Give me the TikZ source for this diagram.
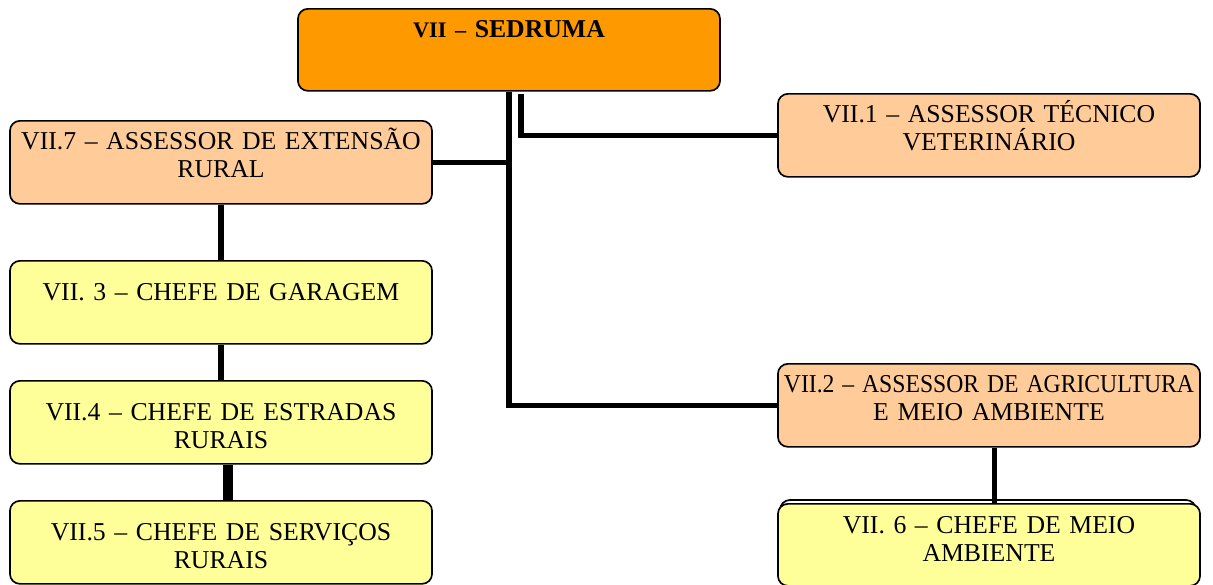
\documentclass[tikz,border=0pt]{standalone}
\usepackage{fontspec}
\usepackage{graphicx}
\setmainfont{Liberation Serif}
\definecolor{sedlaranja}{HTML}{FF9900}
\definecolor{assessorcor}{HTML}{FFCC99}
\definecolor{chefecor}{HTML}{FFFF99}
\tikzset{>=stealth,
  caixa/.style = {draw, line width=1.2pt, rounded corners=0.25cm, anchor=north,
    text width=10.55cm, align=center, inner sep=0pt},
  assessor/.style = {caixa, fill=assessorcor, text height=0.72cm, text depth=1.355cm},
  chefe/.style = {caixa, fill=chefecor, text height=1cm, text depth=1.075cm},
  ligacao/.style = {line width=0.14cm}}

\begin{document}
\begin{tikzpicture}[x=0.025cm, y=-0.025cm, font=\fontsize{18.3}{19.9}\selectfont]
    \useasboundingbox (0,0) rectangle (1213,585);
    \node (sed) at (509,8) [caixa, fill=sedlaranja, text height=0.72cm, text depth=1.33cm]
        {\bfseries{\fontsize{15.8}{18}\selectfont VII –} SEDRUMA};
    \node (a7) at (221,120) [assessor] {VII.7 – ASSESSOR DE EXTENSÃO\\ RURAL};
    \node (a1) at (989,93) [assessor] {VII.1 – ASSESSOR TÉCNICO\\ VETERINÁRIO};
    \node (a2) at (989,363) [assessor]
        {\scalebox{0.92}[1]{VII.2 – ASSESSOR DE AGRICULTURA}\\ E MEIO AMBIENTE};
    \node (c3) at (221,260) [chefe] {VII. 3 – CHEFE DE GARAGEM};
    \node (c4) at (221,380) [chefe] {VII.4 – CHEFE DE ESTRADAS\\ RURAIS};
    \node (c5) at (221,500) [chefe] {VII.5 – CHEFE DE SERVIÇOS\\ RURAIS};
    \draw[line width=1.2pt, rounded corners=0.25cm] (780,500) rectangle (1196,583);
    \node (c6) at (989,503) [chefe, text height=0.75cm, text depth=1.3cm] {VII. 6 – CHEFE DE MEIO\\ AMBIENTE};
    \coordinate (s1) at (521,94);
   %\draw[red] (sed.south) circle (3);
    \draw[ligacao] (sed.south) |- (a2.west);
    \draw[ligacao] (a7.east) -- (a7.east -| sed.south);
    \draw[ligacao] (s1) |- (a1.west);
    \draw[ligacao] (a7.south) -- (c3.north);
    \draw[ligacao] (c3.south) -- (c4.north);
    \draw[line width=0.27cm] ([xshift=0.175cm]c4.south) -- ([xshift=0.175cm]c5.north);
    \draw[ligacao] ([xshift=0.14cm]a2.south) -- ([xshift=0.14cm]c6.north);
\end{tikzpicture}
\end{document}
